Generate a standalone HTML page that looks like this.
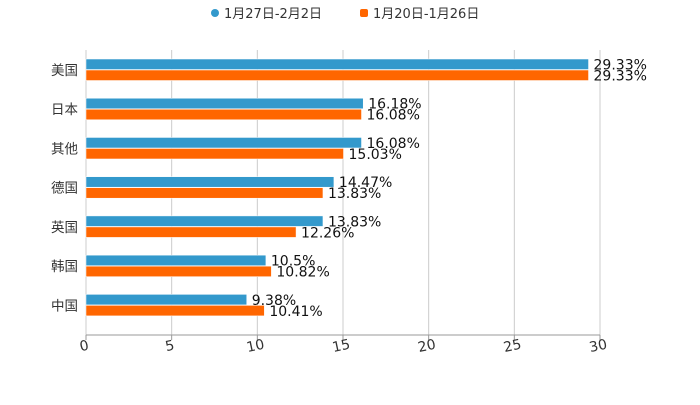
<!DOCTYPE html>
<html><head><meta charset="utf-8"><style>
body{margin:0;background:#fff;}
svg{font-family:"DejaVu Sans","Noto Sans CJK SC",sans-serif;}
</style></head><body>
<svg width="700" height="400" id="c">
<g>
<g><circle cx="215" cy="13" r="4" fill="#3399cc"/><text x="224" y="18" font-size="13" fill="#333">1月27日-2月2日</text></g>
<g><rect x="360" y="9" width="8" height="8" rx="2" fill="#ff6600"/><text x="373" y="18" font-size="13" fill="#333">1月20日-1月26日</text></g>
</g>
</svg>
<script>
const categories=["美国","日本","其他","德国","英国","韩国","中国"];
const series1=[29.33,16.18,16.08,14.47,13.83,10.5,9.38];
const series2=[29.33,16.08,15.03,13.83,12.26,10.82,10.41];
const ticks=[0,5,10,15,20,25,30];
const svg=document.getElementById('c');
const NS='http://www.w3.org/2000/svg';
const x0=86,x1=600,yTop=50.4,yBottom=325,axisY=335;
const xs=v=>x0+(v-0)/30*(x1-x0);
const band=(yBottom-yTop)/categories.length;
const yc=i=>yTop+band*(i+0.5);
function mk(t,a){const e=document.createElementNS(NS,t);for(const k in a)e.setAttribute(k,a[k]);svg.appendChild(e);return e;}
ticks.forEach(t=>{
 const g=mk('line',{x1:xs(t),x2:xs(t),y1:50,y2:axisY,stroke:'#ccc','stroke-width':1});
 
 
 const tk=mk('line',{x1:xs(t),x2:xs(t),y1:axisY,y2:axisY+5,stroke:'#999'});
 
 
 const l=mk('text',{x:xs(t)-2,y:axisY+15,'font-size':14,fill:'#333','text-anchor':'middle',transform:`rotate(-12 ${xs(t)} ${axisY+10})`});
 l.textContent=t;
 
 
});
const ax=mk('line',{x1:x0,x2:x1,y1:axisY,y2:axisY,stroke:'#999'});


categories.forEach((c,i)=>{
 const y=yc(i);
 const cl=mk('text',{x:x0-8,y:y+5,'font-size':13.5,fill:'#333','text-anchor':'end'});
 cl.textContent=c;
 
 
 [[series1,'#3399cc',y-11],[series2,'#ff6600',y]].forEach(([s,col,by],k)=>{
  const r=mk('rect',{x:x0,y:by,width:xs(s[i])-x0,height:10.5,fill:col,stroke:'#fff','stroke-width':0.5});
  
  
  const v=mk('text',{x:xs(s[i])+5,y:by+10.5,'font-size':14,fill:'#111'});
  v.textContent=s[i]+'%';
  
  
 });
});
</script>
</body></html>
